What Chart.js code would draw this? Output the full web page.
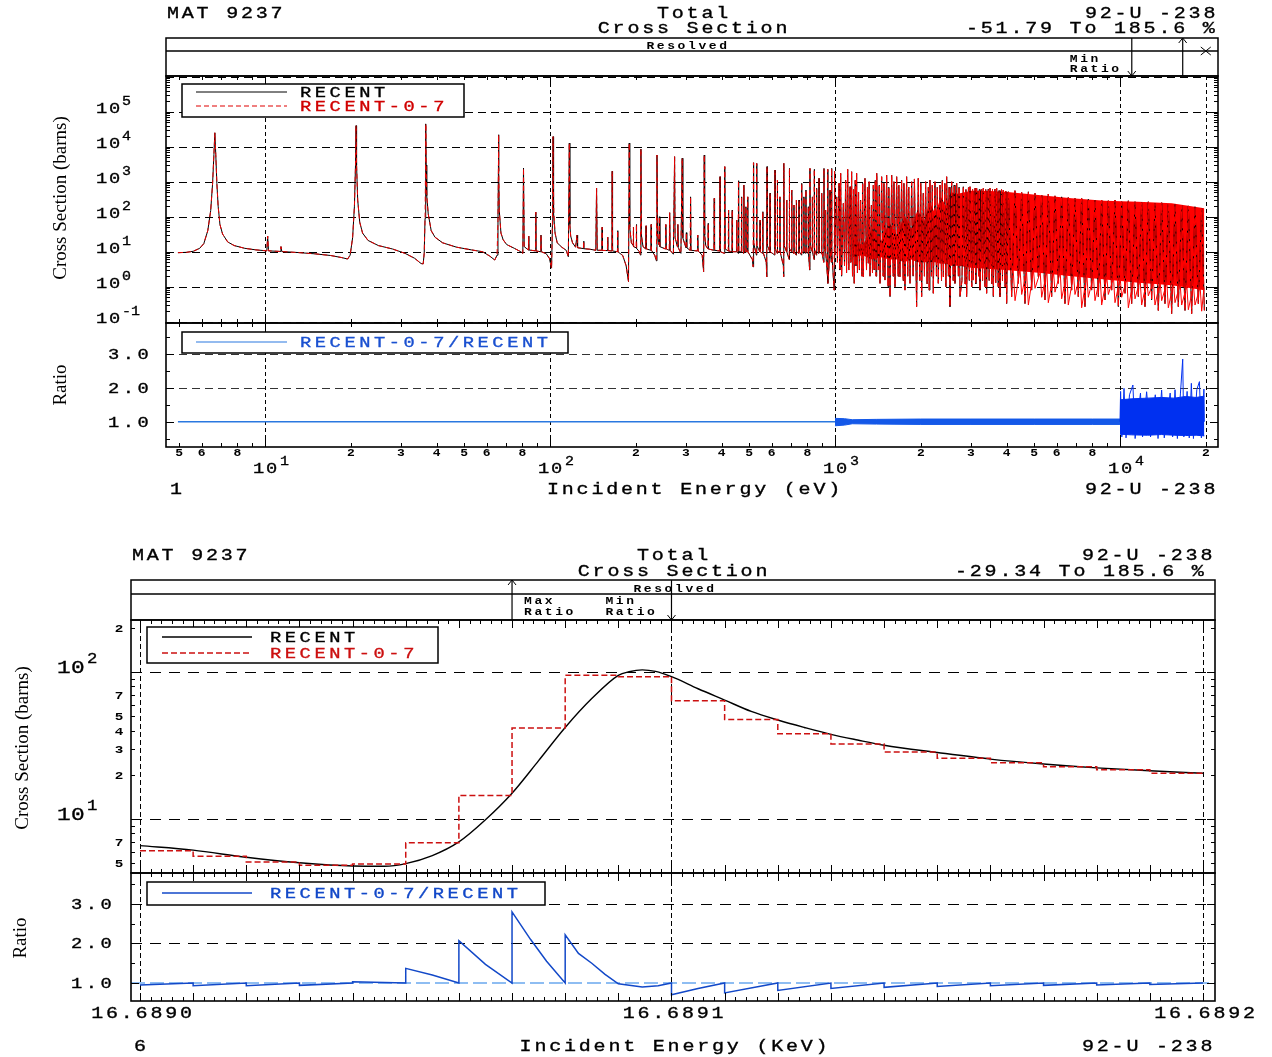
<!DOCTYPE html>
<html>
<head>
<meta charset="utf-8">
<script src="https://cdn.jsdelivr.net/npm/chart.js@4.4.1/dist/chart.umd.min.js"></script>
<style>
  body { margin: 0; background: #fff; }
  #page { position: relative; width: 1272px; height: 1057px; overflow: hidden; background: #fff; }
  canvas, svg { position: absolute; left: 0; top: 0; }
</style>
</head>
<body>
<div id="page">
  <canvas id="c1" width="1272" height="1057"></canvas>
  <canvas id="c2" width="1272" height="1057"></canvas>
  <canvas id="c3" width="1272" height="1057"></canvas>
  <canvas id="c4" width="1272" height="1057"></canvas>
  <svg id="overlay" width="1272" height="1057"></svg>
</div>
<script>
// ===== Figure 1 : U-238 total cross section, 5 eV - 20 keV =====
// [energy (eV), barns]; RECENT and RECENT-0-7 lie on top of each other here
const xsLowRange = [
  [4.95, 9.4], [5.3, 9.6], [5.6, 10.3], [5.9, 12.5], [6.1, 17], [6.3, 40], [6.45, 150], [6.55, 900],
  [6.62, 6000], [6.67, 25000], [6.72, 6000], [6.78, 900], [6.85, 200], [6.95, 60], [7.1, 32], [7.4, 19],
  [7.8, 15], [8.5, 12.5], [9.3, 11.3], [10.15, 10.6], [10.22, 28], [10.29, 10.6], [11.3, 10.2], [11.38, 14],
  [11.46, 10.1], [13, 9.5], [15, 8.7], [17, 7.8], [18.6, 6.8], [19.5, 6.2], [19.9, 8], [20.3, 25],
  [20.6, 200], [20.78, 3000], [20.87, 40000], [20.96, 3000], [21.15, 300], [21.5, 70], [22, 34], [23, 21],
  [25, 15], [28, 12], [31, 9], [33.5, 6.5], [35.3, 4.6], [35.9, 4.5], [36.2, 9], [36.45, 90],
  [36.6, 3000], [36.68, 45000], [36.77, 3000], [36.95, 400], [37.4, 120], [38.3, 40], [39.5, 26], [42, 18],
  [47, 13.5], [53, 11.3], [58, 10], [61.5, 7.5], [64, 5.8], [65.2, 8], [65.7, 80], [65.95, 3000],
  [66.03, 22000], [66.12, 2000], [66.4, 150], [67.3, 34], [68.5, 22], [70.5, 16], [75, 12.5], [79, 10],
  [80.3, 9], [80.75, 2450], [81.2, 14], [84, 11.2], [84.2, 28], [84.4, 11.2], [89, 10.6], [89.2, 135],
  [89.4, 10.5], [92.8, 10], [93, 30], [93.2, 10], [97, 8.8], [99.5, 6.5], [101.3, 3.4], [102, 60],
  [102.3, 2000], [102.5, 19400], [102.7, 1500], [103.2, 125], [104.2, 34], [106, 18], [110, 13.5], [114, 11],
  [116, 7.2]
];
const xsMidRange = [
  [116.9, 12700], [117.4, 60], [118.2, 28], [120, 18], [123, 13.5], [124.4, 30], [125, 13], [131, 12.3],
  [131.3, 20], [131.6, 12.2], [138, 11.8], [144.8, 11], [145.7, 660], [146.5, 11], [152, 11], [152.4, 50],
  [152.8, 10.9], [159, 10.8], [159.4, 26], [159.8, 10.8], [164.9, 10.5], [165.3, 2000], [165.8, 10.5], [172.4, 10],
  [172.8, 40], [173.2, 10], [180, 7.8], [185, 4], [188.6, 1.4], [189.7, 12700], [190.5, 50], [193, 18],
  [195.8, 15], [196.2, 50], [196.6, 14], [200.5, 13], [201, 60], [201.5, 12.5], [206, 10], [207.8, 8],
  [208.5, 8600], [209.3, 30], [212, 14], [216.8, 12], [217.3, 55], [217.8, 12], [226, 11], [226.5, 60],
  [227, 11], [233, 8], [236.3, 5.5], [237.4, 5800], [238.3, 30], [241, 16], [242, 100], [243, 14],
  [254, 12], [255, 60], [256, 12], [262, 11], [263, 130], [264, 11], [271, 8.5], [273.7, 5200],
  [274.8, 25], [280, 14], [281, 60], [282, 13], [288, 9], [291, 4700], [292.5, 25], [300, 13],
  [301, 35], [302, 13], [310, 11], [311.4, 370], [312.5, 11], [329, 10.5], [330, 30], [331, 10.5],
  [342, 8], [346, 2.7], [347.8, 5800], [349, 30], [352, 15], [358.5, 12], [359, 65], [359.5, 12],
  [376, 11], [377, 335], [378, 11], [394, 10.5], [395, 1390], [396, 10], [409, 9], [410.5, 2700],
  [412, 12], [422, 10.5], [423, 155], [424, 10.5], [435, 10], [436, 155], [437, 10], [451, 10],
  [452, 80], [453, 10], [457, 9], [458.5, 1070], [460, 10], [469, 10], [470, 370], [471, 10],
  [478, 9], [479, 805], [480, 10], [486, 10], [487, 193], [488, 10], [493, 10], [494, 370],
  [495, 10], [513, 6], [516, 3.7], [517.5, 3500], [519, 18], [530, 8], [531, 3340], [532.5, 15],
  [545, 10], [546, 80], [547, 10], [557, 9], [558, 139], [559, 10], [574, 5], [576, 1.9],
  [577.5, 2700], [579, 15], [591, 10], [592, 470], [593, 10], [615, 8], [616, 2160], [617, 12],
  [627, 9], [628, 1120], [629, 10], [640, 10], [641, 370], [642, 10], [659, 4], [660.5, 1.93],
  [662, 3340], [663.5, 15], [676, 10], [677, 300], [678, 10], [691, 6], [692, 2400], [693, 12],
  [704, 10], [705, 580], [706, 10], [717, 9], [718, 216], [719, 10], [731, 8], [732, 300],
  [733, 10], [747, 9], [748, 300], [749, 10], [763, 8], [764, 900], [765, 10], [777, 9],
  [778, 370], [779, 10], [790, 9], [791, 580], [792, 10], [805, 9], [806, 193], [807, 10],
  [815, 3], [817, 2400], [819, 15], [832, 10], [833, 370], [834, 10], [845, 6], [846, 2260],
  [847.5, 12], [861, 8], [862, 650], [863, 10], [878, 9], [879, 1250], [880, 10], [897, 9],
  [898, 470], [899, 10], [913, 5], [915, 2400], [917, 12], [926, 10], [927, 155], [928, 10],
  [941, 2], [943, 2260], [945, 1.25], [960, 10], [961, 580], [962, 10], [971, 5], [973, 2400],
  [975, 10], [993, 0.8], [996, 2000], [999, 8]
];
const xsHighRange = [
  [1014, 370], [1020, 5], [1033, 900], [1040, 3], [1047, 1740], [1055, 2], [1070, 240], [1080, 4],
  [1090, 1120], [1098, 2.5], [1108, 2260], [1118, 3], [1129, 720], [1136, 5],
  [1144, 1930], [1152, 2], [1162, 600], [1168, 1.25], [1178, 1100], [1185, 4], [1191, 1740], [1199, 2.5],
  [1210, 500], [1218, 3.0], [1230, 300], [1243, 2], [1251, 900], [1257, 1.93], [1274, 1250], [1290, 3],
  [1300, 700], [1309, 4.7], [1318, 1000], [1327, 2], [1342, 216], [1354, 2.5], [1363, 800], [1372, 3.0],
  [1385, 1100], [1393, 2], [1401, 1740], [1420, 3], [1430, 800], [1439, 1.25], [1458, 1390], [1475, 2],
  [1485, 900], [1497, 1.55], [1518, 1550], [1535, 1], [1545, 700], [1560, 0.52], [1581, 1550], [1600, 2],
  [1610, 1000], [1624, 1.0], [1646, 1390], [1665, 2], [1675, 800], [1690, 1.93], [1713, 1120], [1735, 1.5],
  [1745, 900], [1760, 0.8], [1784, 1390], [1800, 2], [1815, 700], [1833, 1.25], [1858, 1000], [1880, 2],
  [1900, 1200], [1934, 0.27], [1960, 1250], [1985, 1.5], [2000, 900], [2014, 0.52], [2041, 470], [2060, 2],
  [2080, 1000], [2105, 1.2], [2126, 700], [2140, 0.8], [2154, 1120], [2180, 2], [2195, 800], [2213, 0.65],
  [2243, 1000], [2270, 2], [2285, 700], [2304, 1.25], [2336, 805], [2365, 1.5], [2380, 1100], [2400, 1.93],
  [2430, 900], [2450, 1], [2465, 1390], [2500, 2], [2515, 700], [2532, 0.27], [2567, 1000], [2600, 1.5],
  [2620, 800], [2636, 1.25], [2673, 900], [2710, 2], [2725, 700], [2746, 0.52], [2790, 1.5], [2820, 720],
  [2860, 1.2], [2880, 600], [2897, 0.52], [2940, 680], [2960, 1.5], [2977, 720], [3020, 1.0], [3040, 600],
  [3058, 1.55], [3100, 650], [3120, 1.2], [3141, 650], [3190, 2], [3210, 600], [3227, 0.8], [3270, 620],
  [3295, 1.5], [3315, 650], [3360, 1.0], [3380, 600], [3405, 0.65], [3450, 620], [3475, 1.5], [3499, 650],
  [3550, 1.2], [3570, 600], [3594, 0.52], [3640, 620], [3665, 1.3], [3692, 650], [3740, 1.0], [3765, 560],
  [3793, 0.52], [3840, 600], [3870, 1.5], [3896, 580], [3950, 1.0], [3975, 540], [4003, 0.33],
  [4057, 518], [4168, 0.52], [4280, 555], [4399, 1.25], [4519, 495], [4642, 0.33], [4770, 518], [4899, 0.8],
  [5033, 470], [5170, 1.93], [5313, 417], [5455, 0.42], [5604, 445], [5757, 0.52], [5915, 395], [6076, 1.25],
  [6242, 370], [6412, 0.33], [6587, 355], [6767, 0.8], [6952, 336], [7141, 0.52], [7337, 336], [7536, 0.27],
  [7744, 315], [7953, 0.8], [8172, 300], [8395, 0.52], [8625, 300], [8859, 0.42], [9102, 287], [9350, 0.8],
  [9605, 300], [9867, 0.27], [10137, 268], [10413, 0.65], [10698, 287], [10990, 0.33], [11290, 268], [11596, 0.52],
  [11912, 252], [12238, 0.27], [12572, 268], [12915, 0.42], [13268, 241], [13630, 0.21], [14003, 252], [14385, 0.33],
  [14777, 230], [15180, 0.17], [15596, 230], [16020, 0.27], [16459, 216], [16910, 0.21], [17370, 204], [17845, 0.17],
  [18333, 193], [18830, 0.33], [19347, 174], [19770, 0.21]
];
// extra downward minima seen between the resonances above 4 keV
const xsTailDips = [
  [4220, 3], [4283, 0.4], [4460, 3.2], [4520, 0.6], [4700, 2.8], [4770, 0.3], [4970, 3], [5033, 0.9],
  [5250, 2.6], [5311, 0.5], [5540, 2.8], [5604, 0.35], [5850, 2.5], [5914, 0.7], [6170, 2.6], [6242, 0.45],
  [6510, 2.4], [6587, 0.3], [6870, 2.3], [6952, 0.6], [7250, 2.2], [7336, 0.25], [7650, 2.2], [7742, 0.5],
  [8070, 2], [8171, 0.4], [8520, 2], [8624, 0.3], [8990, 1.9], [9101, 0.6], [9490, 1.8], [9605, 0.35],
  [10020, 1.8], [10137, 0.5], [10570, 1.7], [10698, 0.25], [11150, 1.6], [11290, 0.45], [11770, 1.6], [11913, 0.3],
  [12420, 1.5], [12572, 0.55], [13110, 1.4], [13268, 0.3], [13830, 1.4], [14003, 0.4], [14600, 1.3], [14777, 0.25],
  [15410, 1.3], [15596, 0.35], [16260, 1.2], [16459, 0.3], [17160, 1.1], [17370, 0.22], [18110, 1.1], [18333, 0.3],
  [19110, 1.0], [19347, 0.2], [19700, 0.9]
];
// solid red body of the dense resonance region (ragged upper edge below 3 keV)
const bandEnergy = [1150, 1250, 1350, 1450, 1550, 1650, 1750, 1850, 1950, 2050, 2150, 2250, 2350, 2450,
  2550, 2700, 3000, 3500, 3950, 5170, 6767, 8860, 11600, 15190, 19770];
const bandTop    = [25, 15, 45, 20, 70, 30, 110, 45, 160, 70, 260, 120, 380, 200,
  500, 450, 550, 540, 518, 417, 336, 287, 268, 241, 174];
const bandBottom = [7, 8, 6, 7, 6, 6, 5, 6, 5, 5, 5, 5, 4.5, 4.5,
  4, 4, 3.5, 3.2, 3.0, 2.5, 2.0, 1.6, 1.3, 1.1, 0.8];

// ratio RECENT-0-7 / RECENT
const ratioFlat = [[4.95, 1.0], [1000, 1.0]];
const ratioNoiseEnergy = [1000, 1080, 1150, 1400, 2000, 3000, 5000, 8000, 10000];
const ratioNoiseHi = [1.10, 1.09, 1.06, 1.07, 1.08, 1.08, 1.08, 1.08, 1.08];
const ratioNoiseLo = [0.88, 0.90, 0.94, 0.93, 0.92, 0.92, 0.92, 0.92, 0.92];
const ratioTailEnergy = [10000, 11000, 12500, 14000, 15500, 17000, 18500, 19770];
const ratioTailHi = [1.65, 1.68, 1.70, 1.72, 1.70, 1.75, 1.72, 1.76];
const ratioTailLo = [0.63, 0.61, 0.60, 0.62, 0.60, 0.59, 0.60, 0.58];
const ratioTailSpikes = [
  [10000, 1.0], [10050, 1.9], [10150, 0.55], [10330, 1.99], [10500, 0.52], [10800, 1.8], [11100, 2.09], [11300, 0.5],
  [11800, 1.85], [12000, 0.55], [12400, 1.89], [12800, 0.55], [13300, 1.8], [13600, 0.5], [14000, 1.94], [14300, 0.52],
  [15000, 1.85], [15300, 0.55], [15600, 1.95], [15900, 0.5], [16300, 1.85], [16600, 2.86], [16750, 0.55], [17200, 1.9],
  [17500, 0.52], [17800, 2.14], [18100, 0.5], [18600, 1.95], [19000, 2.19], [19300, 0.52], [19700, 1.97], [19770, 1.0]
];
const fig1MinRatioE = 11000;
const fig1MaxRatioE = 16600;
const fig1ResolvedEnd = 20000;

// tick labels, figure 1
const fig1Exponents = [-1, 0, 1, 2, 3, 4, 5];
const fig1XMinorLabels = [5, 6, 8, 20, 30, 40, 50, 60, 80, 200, 300, 400, 500, 600, 800,
  2000, 3000, 4000, 5000, 6000, 8000, 20000];
const fig1XDecades = [10, 100, 1000, 10000];
const ratioLabels = [1, 2, 3];

// ===== Figure 2 : zoom 16.6890 - 16.6892 keV =====
const zoomEnergy = [16.68900, 16.68901, 16.68902, 16.68903, 16.68904, 16.689046, 16.68905, 16.689055,
  16.68906, 16.689065, 16.68907, 16.689075, 16.68908, 16.689085, 16.68909, 16.689092, 16.6890945,
  16.689097, 16.68910, 16.689105, 16.68911, 16.689115, 16.68912, 16.689125, 16.68913, 16.689135,
  16.68914, 16.68915, 16.68916, 16.68917, 16.68918, 16.68919, 16.68920];
const zoomRecent = [6.6, 6.15, 5.5, 5.05, 4.8, 4.78, 4.98, 5.65, 7.0, 9.9, 15.0, 25, 42, 66, 95, 100.5,
  103.5, 101, 93, 77, 64.5, 54, 47.2, 42, 37.7, 34.5, 31.8, 28.4, 25.6, 23.7, 22.3, 21.3, 20.5];
const binEdges = [16.68900, 16.68901, 16.68902, 16.68903, 16.68904, 16.68905, 16.68906, 16.68907,
  16.68908, 16.68909, 16.68910, 16.68911, 16.68912, 16.68913, 16.68914, 16.68915, 16.68916,
  16.68917, 16.68918, 16.68919, 16.68920];
const binRecent07 = [6.1, 5.6, 5.1, 4.85, 4.95, 6.9, 14.5, 41.7, 95, 93, 63.7, 47.6, 38.1, 32.4,
  28.6, 25.9, 24.2, 22.7, 21.7, 20.5];
const zoomRatioEnergy = [16.68900, 16.68901, 16.68901, 16.68902, 16.68902, 16.68903, 16.68903, 16.68904,
  16.68904, 16.68905, 16.68905, 16.689055, 16.68906, 16.68906, 16.689065, 16.68907, 16.68907, 16.6890735,
  16.6890765, 16.68908, 16.68908, 16.6890825, 16.689085, 16.6890875, 16.68909, 16.6890945, 16.6890975,
  16.68910, 16.68910, 16.689105, 16.68911, 16.68911, 16.68912, 16.68912, 16.68913, 16.68913, 16.68914,
  16.68914, 16.68915, 16.68915, 16.68916, 16.68916, 16.68917, 16.68917, 16.68918, 16.68918, 16.68919,
  16.68919, 16.68920];
const zoomRatio = [0.95, 1.0, 0.93, 1.0, 0.93, 1.0, 0.94, 1.0,
  1.03, 1.0, 1.37, 1.2, 1.0, 2.07, 1.47, 1.0, 2.8, 2.1,
  1.55, 1.0, 2.22, 1.75, 1.5, 1.22, 0.98, 0.90, 0.93,
  1.0, 0.70, 0.86, 1.0, 0.75, 1.0, 0.81, 1.0, 0.86, 1.0,
  0.89, 1.0, 0.91, 1.0, 0.93, 1.0, 0.94, 1.0, 0.95, 1.0,
  0.96, 1.0];
const fig2MaxRatioE = 16.68907;
const fig2MinRatioE = 16.68910;

const fig2YMinorLabels = [5, 7, 20, 30, 40, 50, 70, 200];
const fig2YDecades = [1, 2];
const fig2XLabels = ['16.6890', '16.6891', '16.6892'];

// ===== helpers =====
const W = 1272, H = 1057;
const MONO = '"Liberation Mono", "DejaVu Sans Mono", monospace';
const SERIF = '"Liberation Serif", "DejaVu Serif", serif';

const toPts = list => list.map(p => ({ x: p[0], y: p[1] }));
const zipPts = (xs, ys) => xs.map((x, i) => ({ x, y: ys[i] }));

function logTicks(min, max, mults) {
  const out = [];
  for (let e = Math.floor(Math.log10(min)); e <= Math.ceil(Math.log10(max)); e++) {
    for (const m of mults) {
      const v = m * Math.pow(10, e);
      if (v >= min && v <= max) out.push(v);
    }
  }
  return out;
}
function linTicks(start, step, end) {
  const out = [];
  for (let i = 0; start + i * step <= end + step * 1e-3; i++) out.push(start + i * step);
  return out;
}

// grid, frame and inward tick marks
const panelPlugin = {
  id: 'panel',
  beforeDatasetsDraw(chart, args, o) {
    const { ctx, chartArea: a, scales: { x, y } } = chart;
    ctx.save();
    ctx.lineWidth = 1;
    ctx.strokeStyle = o.gridColor || '#000';
    ctx.setLineDash(o.hDash);
    for (const v of o.hGrid) {
      const py = Math.round(y.getPixelForValue(v)) + 0.5;
      ctx.beginPath(); ctx.moveTo(a.left, py); ctx.lineTo(a.right, py); ctx.stroke();
    }
    ctx.strokeStyle = '#000';
    ctx.setLineDash(o.vDash);
    for (const v of o.vGrid) {
      const px = Math.round(x.getPixelForValue(v)) + 0.5;
      ctx.beginPath(); ctx.moveTo(px, a.top); ctx.lineTo(px, a.bottom); ctx.stroke();
    }
    ctx.restore();
  },
  afterDatasetsDraw(chart, args, o) {
    const { ctx, chartArea: a, scales: { x, y } } = chart;
    ctx.save();
    ctx.setLineDash([]);
    ctx.strokeStyle = '#000';
    ctx.lineWidth = 1;
    const tickX = (v, len) => {
      const px = Math.round(x.getPixelForValue(v)) + 0.5;
      ctx.beginPath();
      ctx.moveTo(px, a.top); ctx.lineTo(px, a.top + len);
      ctx.moveTo(px, a.bottom); ctx.lineTo(px, a.bottom - len);
      ctx.stroke();
    };
    const tickY = (v, len) => {
      const py = Math.round(y.getPixelForValue(v)) + 0.5;
      ctx.beginPath();
      ctx.moveTo(a.left, py); ctx.lineTo(a.left + len, py);
      ctx.moveTo(a.right, py); ctx.lineTo(a.right - len, py);
      ctx.stroke();
    };
    o.xMinor.forEach(v => tickX(v, 4));
    o.xMajor.forEach(v => tickX(v, 8));
    o.yMinor.forEach(v => tickY(v, 4));
    o.yMajor.forEach(v => tickY(v, 8));
    ctx.lineWidth = 1.6;
    ctx.strokeRect(a.left, a.top, a.right - a.left, a.bottom - a.top);
    ctx.restore();
  }
};

function axis(type, min, max) {
  return {
    type, min, max,
    ticks: { display: false },
    grid: { display: false },
    border: { display: false },
    afterFit: s => { if (s.isHorizontal()) s.height = 0; else s.width = 0; }
  };
}

function makePanel(id, area, xAxis, yAxis, datasets, panel) {
  return new Chart(document.getElementById(id), {
    type: 'line',
    data: { datasets },
    options: {
      responsive: false,
      animation: false,
      devicePixelRatio: 1,
      events: [],
      layout: { padding: { left: area[0], top: area[1], right: W - area[2], bottom: H - area[3] } },
      elements: { point: { radius: 0 }, line: { tension: 0 } },
      plugins: { legend: { display: false }, tooltip: { enabled: false }, panel },
      scales: { x: xAxis, y: yAxis }
    },
    plugins: [panelPlugin]
  });
}

const line = (data, color, width, extra = {}) =>
  Object.assign({ data, borderColor: color, borderWidth: width, pointRadius: 0, fill: false }, extra);

// ===== figure 1 =====
const lowSeries = [...xsLowRange, ...xsMidRange];
const x1 = () => axis('logarithmic', 4.495, 22075);
const fig1VGrid = [10, 100, 1000, 10000, 20000];
const fig1XMinor = logTicks(4.495, 22075, [2, 3, 4, 5, 6, 7, 8, 9]);

const c1 = makePanel('c1', [166, 76, 1218, 323], x1(), axis('logarithmic', 0.092, 1.05e6), [
  line(toPts(lowSeries), '#e80000', 1, { borderDash: [5, 3], order: 1 }),
  line(toPts([xsMidRange[xsMidRange.length - 1], ...xsHighRange]), '#ff0000', 1, { borderDash: [8, 2], order: 1 }),
  line(toPts(xsTailDips), '#ff0000', 1, { order: 1 }),
  line(toPts([...lowSeries, ...xsHighRange]), '#000', 1, { order: 2 }),
  line(zipPts(bandEnergy, bandTop), 'rgba(0,0,0,0)', 0, { fill: '+1', backgroundColor: '#ff0000', order: 3 }),
  line(zipPts(bandEnergy, bandBottom), 'rgba(0,0,0,0)', 0, { order: 3 })
], {
  hGrid: logTicks(0.1, 1e6, [1]), vGrid: fig1VGrid, hDash: [8, 5], vDash: [4, 3],
  xMinor: fig1XMinor, xMajor: fig1XDecades,
  yMinor: logTicks(0.092, 1.05e6, [2, 3, 4, 5, 6, 7, 8, 9]), yMajor: logTicks(0.1, 1e6, [1])
});

const c2 = makePanel('c2', [166, 323, 1218, 447], x1(), axis('linear', 0.25, 3.93), [
  line(toPts(ratioFlat), '#2a78e0', 1.5, { order: 1 }),
  line(toPts(ratioTailSpikes), '#0030f0', 1, { order: 1 }),
  line(zipPts(ratioNoiseEnergy, ratioNoiseHi), '#1458e8', 1, { fill: '+1', backgroundColor: '#1458e8', order: 2 }),
  line(zipPts(ratioNoiseEnergy, ratioNoiseLo), '#1458e8', 1, { order: 2 }),
  line(zipPts(ratioTailEnergy, ratioTailHi), '#0030f0', 1, { fill: '+1', backgroundColor: '#0030f0', order: 2 }),
  line(zipPts(ratioTailEnergy, ratioTailLo), '#0030f0', 1, { order: 2 })
], {
  hGrid: [2, 3], vGrid: fig1VGrid, hDash: [8, 5], vDash: [4, 3], gridColor: '#333',
  xMinor: fig1XMinor, xMajor: fig1XDecades,
  yMinor: [0.5, 1.5, 2.5, 3.5], yMajor: [1, 2, 3]
});

// ===== figure 2 =====
const x2 = () => axis('linear', 16.68899831, 16.68920226);
const fig2VGrid = [16.6890, 16.6891, 16.6892];
const fig2XMinor = linTicks(16.6890, 2e-6, 16.6892);
const fig2XMajor = linTicks(16.6890, 1e-5, 16.6892);
const stepPts = zipPts(binEdges.slice(0, -1), binRecent07)
  .concat([{ x: binEdges[binEdges.length - 1], y: binRecent07[binRecent07.length - 1] }]);

const c3 = makePanel('c3', [131, 620, 1215, 873], x2(), axis('logarithmic', 4.30, 226), [
  line(stepPts, '#cc1010', 1.5, { stepped: 'before', borderDash: [6, 3], order: 1 }),
  line(zipPts(zoomEnergy, zoomRecent), '#000', 1.4, { cubicInterpolationMode: 'monotone', order: 2 })
], {
  hGrid: [10, 100], vGrid: fig2VGrid, hDash: [11, 8], vDash: [5, 3],
  xMinor: fig2XMinor, xMajor: fig2XMajor,
  yMinor: logTicks(4.3, 226, [2, 3, 4, 5, 6, 7, 8, 9]), yMajor: [10, 100]
});

const c4 = makePanel('c4', [131, 873, 1215, 1001], x2(), axis('linear', 0.544, 3.785), [
  line(zipPts(zoomRatioEnergy, zoomRatio), '#1248c8', 1.5, { order: 1 }),
  line([{ x: 16.68899831, y: 1 }, { x: 16.68920226, y: 1 }], '#6aa8ee', 1.3, { borderDash: [14, 5], order: 2 })
], {
  hGrid: [2, 3], vGrid: fig2VGrid, hDash: [11, 8], vDash: [5, 3],
  xMinor: fig2XMinor, xMajor: fig2XMajor,
  yMinor: [1.5, 2.5, 3.5], yMajor: [1, 2, 3]
});

// ===== text and header boxes =====
const svg = document.getElementById('overlay');
const NS = 'http://www.w3.org/2000/svg';
function el(name, attrs) {
  const e = document.createElementNS(NS, name);
  for (const k in attrs) e.setAttribute(k, attrs[k]);
  svg.appendChild(e);
  return e;
}
// monospace plotter-like text: widened glyphs at a fixed character pitch
function txt(s, x, y, o = {}) {
  const serif = o.family === SERIF;
  const size = o.size || 16;
  const sx = serif ? 1 : (o.sx || 1.25);
  const pitch = serif ? 0 : (o.pitch ?? 14.8);
  const ls = pitch ? (pitch - 0.6 * size * sx) / sx : 0;
  const color = o.color || '#000';
  const t = el('text', {
    x: 0, y: 0,
    transform: `translate(${x} ${y}) rotate(${o.rotate || 0}) scale(${sx} 1)`,
    'font-family': o.family || MONO,
    'font-size': size,
    'font-weight': o.weight || 'normal',
    fill: color,
    stroke: serif ? 'none' : color,
    'stroke-width': o.stroke ?? 0.35,
    'text-anchor': o.anchor || 'start',
    'letter-spacing': ls
  });
  t.textContent = s;
}
function seg(x1, y1, x2, y2, o = {}) {
  el('line', { x1, y1, x2, y2, stroke: o.color || '#000', 'stroke-width': o.width || 1.5,
    'stroke-dasharray': o.dash || 'none' });
}
function box(x, y, w, h) {
  el('rect', { x, y, width: w, height: h, fill: '#fff', stroke: '#000', 'stroke-width': 1.5 });
}
function arrow(x, top, bottom, up) {
  seg(x, top, x, bottom, { width: 1.2 });
  const tip = up ? top : bottom, d = up ? 5 : -5;
  el('polyline', { points: `${x - 4},${tip + d} ${x},${tip} ${x + 4},${tip + d}`, fill: 'none', stroke: '#000', 'stroke-width': 1 });
}
const small = { size: 10, sx: 1.3, pitch: 10.4, weight: 'bold', stroke: 0 };

// figure 1 header
txt('MAT 9237', 167, 18);
txt('Total', 694, 18, { anchor: 'middle' });
txt('Cross Section', 694, 33, { anchor: 'middle' });
txt('92-U -238', 1085, 18);
txt('-51.79 To 185.6 %', 966, 33);
el('rect', { x: 166, y: 38, width: 1052, height: 38, fill: 'none', stroke: '#000', 'stroke-width': 1.5 });
seg(166, 51, 1218, 51);
txt('Resolved', 688, 48.5, Object.assign({ anchor: 'middle' }, small));
{
  const xs = c1.scales.x;
  const xMin = xs.getPixelForValue(fig1MinRatioE), xMax = xs.getPixelForValue(fig1MaxRatioE);
  const xEnd = xs.getPixelForValue(fig1ResolvedEnd);
  arrow(xMin, 38, 76, false);
  arrow(xMax, 38, 76, true);
  txt('Min', xMin - 62, 62, small);
  txt('Ratio', xMin - 62, 72, small);
  seg(xEnd - 5, 47, xEnd + 5, 55, { width: 1 });
  seg(xEnd - 5, 55, xEnd + 5, 47, { width: 1 });
}
// figure 1 legends
box(182, 84, 282, 33);
seg(196, 92, 287, 92, { width: 1 });
seg(196, 106, 287, 106, { width: 1.2, color: '#e00000', dash: '5 3' });
txt('RECENT', 300, 97, { size: 15 });
txt('RECENT-0-7', 300, 111, { size: 15, color: '#d00000' });
box(182, 332, 386, 21);
seg(196, 342, 287, 342, { width: 1.2, color: '#2a78e0' });
txt('RECENT-0-7/RECENT', 300, 347, { size: 15, color: '#1a50d0' });

// figure 1 axis labels
{
  const ys = c1.scales.y;
  fig1Exponents.forEach(e => {
    const py = ys.getPixelForValue(Math.pow(10, e));
    txt('10', 96, py + 1, { size: 15, pitch: 13 });
    txt(String(e), 122, py - 7, { size: 13, sx: 1.15, pitch: 9 });
  });
  const yr = c2.scales.y;
  ratioLabels.forEach(r => txt(r.toFixed(1), 108, yr.getPixelForValue(r) + 5, { size: 15 }));
  const xs = c2.scales.x;
  fig1XMinorLabels.forEach(v => {
    const d = Math.round(v / Math.pow(10, Math.floor(Math.log10(v) + 1e-9)));
    txt(String(d), xs.getPixelForValue(v), 456, { size: 10, sx: 1.3, pitch: 0, weight: 'bold', stroke: 0, anchor: 'middle' });
  });
  fig1XDecades.forEach(v => {
    const px = xs.getPixelForValue(v);
    txt('10', px - 12, 473, { size: 15, pitch: 13 });
    txt(String(Math.round(Math.log10(v))), px + 15, 465, { size: 13, sx: 1.15, pitch: 9 });
  });
}
txt('Cross Section (barns)', 66, 198, { family: SERIF, size: 19, anchor: 'middle', rotate: -90 });
txt('Ratio', 66, 385, { family: SERIF, size: 19, anchor: 'middle', rotate: -90 });
txt('1', 170, 494);
txt('Incident Energy (eV)', 695, 494, { anchor: 'middle' });
txt('92-U -238', 1085, 494);

// figure 2 header
txt('MAT 9237', 132, 560);
txt('Total', 674, 560, { anchor: 'middle' });
txt('Cross Section', 674, 576, { anchor: 'middle' });
txt('92-U -238', 1082, 560);
txt('-29.34 To 185.6 %', 955, 576);
el('rect', { x: 131, y: 580, width: 1084, height: 40, fill: 'none', stroke: '#000', 'stroke-width': 1.5 });
seg(131, 594, 1215, 594);
txt('Resolved', 675, 591.5, Object.assign({ anchor: 'middle' }, small));
{
  const xs = c3.scales.x;
  const xMax = xs.getPixelForValue(fig2MaxRatioE), xMin = xs.getPixelForValue(fig2MinRatioE);
  arrow(xMax, 580, 620, true);
  arrow(xMin, 580, 620, false);
  txt('Max', xMax + 12, 604, small);
  txt('Ratio', xMax + 12, 615, small);
  txt('Min', xMin - 66, 604, small);
  txt('Ratio', xMin - 66, 615, small);
}
// figure 2 legends
box(147, 627, 291, 36);
seg(162, 637, 252, 637, { width: 1.4 });
seg(162, 653, 252, 653, { width: 1.5, color: '#cc1010', dash: '6 3' });
txt('RECENT', 270, 642, { size: 15 });
txt('RECENT-0-7', 270, 658, { size: 15, color: '#cc1010' });
box(147, 882, 398, 23);
seg(162, 893, 252, 893, { width: 1.4, color: '#1248c8' });
txt('RECENT-0-7/RECENT', 270, 898, { size: 15, color: '#1248c8' });

// figure 2 axis labels
{
  const ys = c3.scales.y;
  fig2YDecades.forEach(e => {
    const py = ys.getPixelForValue(Math.pow(10, e));
    txt('10', 57, py + 1, { size: 19, sx: 1.2, pitch: 14 });
    txt(String(e), 87, py - 9, { size: 15, sx: 1.15, pitch: 10 });
  });
  fig2YMinorLabels.forEach(v => {
    const d = Math.round(v / Math.pow(10, Math.floor(Math.log10(v) + 1e-9)));
    txt(String(d), 119, ys.getPixelForValue(v) + 4, { size: 11, sx: 1.3, pitch: 0, weight: 'bold', stroke: 0, anchor: 'middle' });
  });
  const yr = c4.scales.y;
  ratioLabels.forEach(r => txt(r.toFixed(1), 71, yr.getPixelForValue(r) + 5, { size: 15 }));
  const xs = c4.scales.x;
  fig2VGrid.forEach((v, i) => txt(fig2XLabels[i], xs.getPixelForValue(v) + 3, 1018, { anchor: 'middle' }));
}
txt('Cross Section (barns)', 28, 748, { family: SERIF, size: 19, anchor: 'middle', rotate: -90 });
txt('Ratio', 26, 938, { family: SERIF, size: 19, anchor: 'middle', rotate: -90 });
txt('6', 134, 1051);
txt('Incident Energy (KeV)', 675, 1051, { anchor: 'middle' });
txt('92-U -238', 1082, 1051);
</script>
</body>
</html>
